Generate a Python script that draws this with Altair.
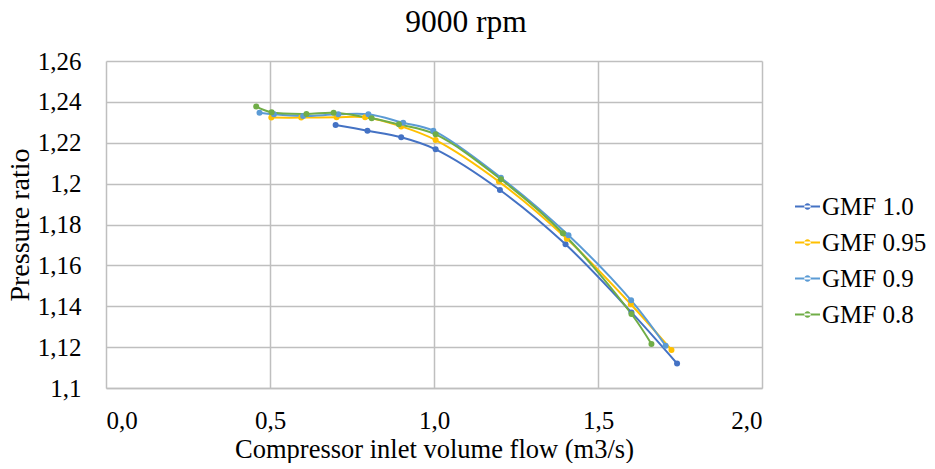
import altair as alt
import pandas as pd

series_names = ["GMF 1.0", "GMF 0.95", "GMF 0.9", "GMF 0.8"]
colors = ["#4472C4", "#FFC000", "#5B9BD5", "#70AD47"]

gmf10_x = [0.70, 0.797, 0.90, 1.005, 1.201, 1.401, 1.602, 1.741]
gmf10_y = [1.2287, 1.2259, 1.2227, 1.2168, 1.1969, 1.1703, 1.1370, 1.1120]

gmf095_x = [0.504, 0.595, 0.703, 0.79, 0.90, 1.005, 1.198, 1.405, 1.60, 1.724]
gmf095_y = [1.2323, 1.2323, 1.2325, 1.2325, 1.2280, 1.2213, 1.2010, 1.1730, 1.1410, 1.1186]

gmf09_x = [0.468, 0.512, 0.601, 0.708, 0.80, 0.906, 0.998, 1.204, 1.41, 1.601, 1.706]
gmf09_y = [1.2347, 1.2339, 1.2331, 1.2339, 1.2339, 1.2298, 1.2259, 1.2029, 1.1747, 1.1429, 1.1207]

gmf08_x = [0.458, 0.505, 0.611, 0.694, 0.81, 0.893, 1.005, 1.204, 1.393, 1.602, 1.663]
gmf08_y = [1.2377, 1.2349, 1.2341, 1.2347, 1.2320, 1.2290, 1.2241, 1.2021, 1.1757, 1.1362, 1.1215]

xs = [gmf10_x, gmf095_x, gmf09_x, gmf08_x]
ys = [gmf10_y, gmf095_y, gmf09_y, gmf08_y]

rows = []
for i, (name, xv, yv) in enumerate(zip(series_names, xs, ys)):
    for j, (a, b) in enumerate(zip(xv, yv)):
        rows.append({"series": name, "flow": a, "pr": b, "ord": i, "k": j})
df = pd.DataFrame(rows)

FONT = "'Liberation Serif', 'Times New Roman', 'DejaVu Serif', serif"

color_scale = alt.Scale(domain=series_names, range=colors)

legend_symbol = ("M-1,-0.08H1V0.08H-1Z "
                 "M-0.26,0A0.26,0.26 0 1,0 0.26,0A0.26,0.26 0 1,0 -0.26,0Z")

x_enc = alt.X("flow:Q", scale=alt.Scale(domain=[0, 2.0], nice=False),
              axis=alt.Axis(values=[0, 0.5, 1.0, 1.5, 2.0],
                            labelExpr="replace(format(datum.value, '.1f'), '.', ',')",
                            title="Compressor inlet volume flow (m3/s)",
                            titlePadding=3, labelPadding=20, titleFontSize=26.5),
              )
y_enc = alt.Y("pr:Q", scale=alt.Scale(domain=[1.1, 1.26], nice=False, zero=False),
              axis=alt.Axis(values=[1.1, 1.12, 1.14, 1.16, 1.18, 1.2, 1.22, 1.24, 1.26],
                            labelExpr="replace(toString(round(datum.value * 100) / 100), '.', ',')",
                            title="Pressure ratio", titlePadding=3, labelPadding=25,
                            titleFontSize=28))

color_enc = alt.Color("series:N", scale=color_scale,
                      legend=alt.Legend(title=None, orient="none", legendX=689, legendY=133,
                                        symbolType=legend_symbol, symbolSize=625,
                                        labelFont=FONT, labelFontSize=25, labelColor="#000000",
                                        rowPadding=10, labelOffset=2, symbolStrokeWidth=0,
                                        labelLimit=200))

base = alt.Chart(df)

lines = base.mark_line(interpolate="catmull-rom", strokeWidth=2).encode(
    x=x_enc, y=y_enc, color=color_enc, detail="series:N",
    order=alt.Order("k:Q"))

points = base.mark_point(filled=True, size=36, opacity=1).encode(
    x="flow:Q", y="pr:Q",
    color=alt.Color("series:N", scale=color_scale, legend=None))

chart = alt.layer(lines, points).properties(
    width=656, height=327,
    title=alt.TitleParams("9000 rpm", font=FONT, fontSize=31.5, fontWeight="normal",
                          color="#000000", offset=11, dx=32),
    autosize=alt.AutoSizeParams(type="none"),
    padding={"left": 98, "top": 53, "right": 165, "bottom": 75},
).configure_view(stroke=None).configure_axis(
    labelFont=FONT, labelFontSize=25, labelColor="#000000",
    titleFont=FONT, titleFontWeight="normal", titleColor="#000000",
    gridColor="#BFBFBF", gridWidth=1.5, domain=False, ticks=False, grid=True,
).configure_axisY(domain=False).configure_axisX(domain=True, domainColor="#BFBFBF", domainWidth=1.5)

chart.save("out.html", embed_options={"renderer": "svg", "actions": False})
